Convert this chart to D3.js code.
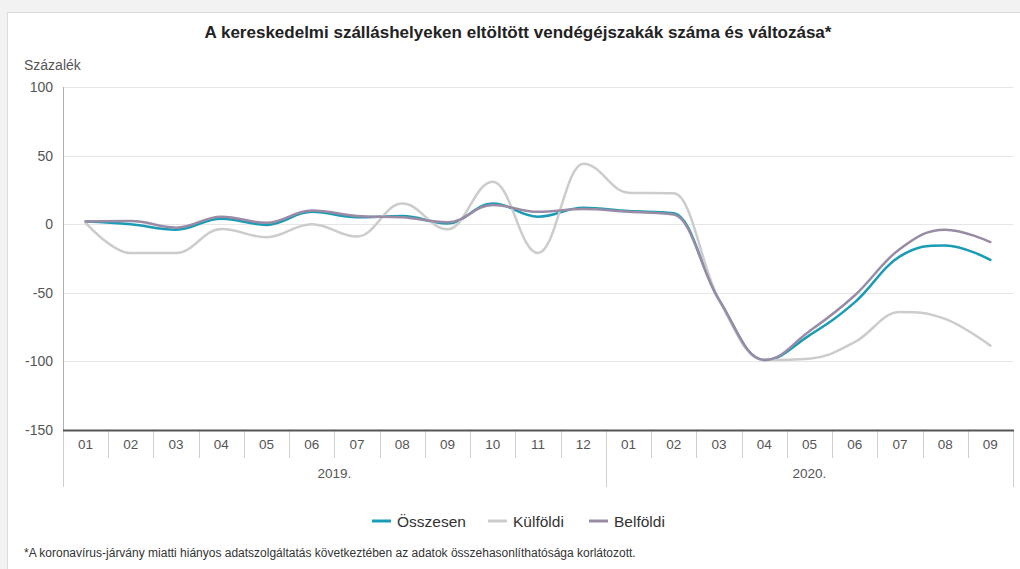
<!DOCTYPE html>
<html>
<head>
<meta charset="utf-8">
<script src="https://cdn.jsdelivr.net/npm/d3@7/dist/d3.min.js"></script>
<style>
  html, body { margin: 0; padding: 0; background: #f2f2f2; }
  svg { display: block; font-family: "Liberation Sans", Arial, sans-serif; }
</style>
</head>
<body>
<svg id="chart" width="1020" height="569"></svg>
<script>
// Month labels along the category axis, grouped by year
const months = ["01","02","03","04","05","06","07","08","09","10","11","12",
                "01","02","03","04","05","06","07","08","09"];
const yearLabels = ["2019.", "2020."];
const yearMonthCounts = [12, 9];

// Change compared with the same month of the previous year, %
const osszesen = [2, 0, -4, 4, -0.5, 9, 5, 6, 0.6, 15, 5.5, 12,
                  9.6, 8, -55, -99, -81, -57, -23.5, -15.5, -26];
const kulfoldi = [1, -21, -21, -3.5, -9.5, 0, -9, 15, -3.7, 31, -21, 44,
                  23, 22.5, -55, -99, -98, -86, -64, -69, -88.5];
const belfoldi = [2, 2.3, -2.5, 5.5, 1, 10, 6, 5, 1.4, 14, 9, 11,
                  9, 7, -55, -99, -78, -52, -18, -4, -13];

const yTicks = [100, 50, 0, -50, -100, -150];

const seriesNames = ["Összesen", "Külföldi", "Belföldi"];
const seriesColors = ["#1a9cb6", "#cccccc", "#9a8ba5"];
const seriesValues = [osszesen, kulfoldi, belfoldi];

const svg = d3.select("#chart");
const W = 1020, H = 569;
const plot = { left: 63, right: 1013, top: 87, bottom: 430 };

// White panel with a light frame
svg.append("rect").attr("x", 7.5).attr("y", 12.5).attr("width", W).attr("height", H)
  .attr("fill", "#fff").attr("stroke", "#dcdcdc");

// Title
svg.append("text").attr("x", 518).attr("y", 38).attr("text-anchor", "middle")
  .attr("font-size", 17).attr("font-weight", "bold").attr("fill", "#222")
  .text("A kereskedelmi szálláshelyeken eltöltött vendégéjszakák száma és változása*");

// Axis unit
svg.append("text").attr("x", 24).attr("y", 70).attr("font-size", 14).attr("fill", "#555")
  .text("Százalék");

const keys = months.map((m, i) => i);
const x = d3.scaleBand().domain(keys).range([plot.left, plot.right]);
const y = d3.scaleLinear().domain([-150, 100]).range([plot.bottom, plot.top]);

// Horizontal grid
svg.append("g").selectAll("line").data(yTicks.filter(t => t !== -150)).join("line")
  .attr("x1", plot.left).attr("x2", plot.right)
  .attr("y1", d => Math.round(y(d)) + 0.5).attr("y2", d => Math.round(y(d)) + 0.5)
  .attr("stroke", "#e6e6e6").attr("stroke-width", 1);

// Y axis labels (plain hyphen for negatives)
const yAxis = d3.axisLeft(y).tickValues(yTicks).tickSize(0).tickPadding(10).tickFormat(d => String(d));
const yg = svg.append("g").attr("transform", `translate(${plot.left},0)`).call(yAxis);
yg.select(".domain").remove();
yg.selectAll("text").attr("font-size", 14).attr("fill", "#555")
  .attr("font-family", "'Liberation Sans', Arial, sans-serif").attr("dy", "0.32em");

// Y axis line
svg.append("line").attr("x1", plot.left + 0.5).attr("x2", plot.left + 0.5)
  .attr("y1", plot.top).attr("y2", plot.bottom).attr("stroke", "#b0b0b0").attr("stroke-width", 1);

// Category separators: month boundaries and longer year boundaries
const bw = x.bandwidth();
const yearStarts = [0];
yearMonthCounts.forEach((c, i) => yearStarts.push(yearStarts[i] + c));
const boundaries = d3.range(months.length + 1);
svg.append("g").selectAll("line").data(boundaries).join("line")
  .attr("x1", i => Math.round(plot.left + i * bw) + 0.5)
  .attr("x2", i => Math.round(plot.left + i * bw) + 0.5)
  .attr("y1", plot.bottom)
  .attr("y2", i => yearStarts.includes(i) ? 487 : 458)
  .attr("stroke", "#cfcfcf").attr("stroke-width", 1);

// Bottom axis line
svg.append("line").attr("x1", plot.left).attr("x2", plot.right + 1)
  .attr("y1", plot.bottom + 0.5).attr("y2", plot.bottom + 0.5)
  .attr("stroke", "#555").attr("stroke-width", 2);

// Month labels
svg.append("g").selectAll("text").data(keys).join("text")
  .attr("x", i => x(i) + bw / 2).attr("y", 449).attr("text-anchor", "middle")
  .attr("font-size", 13.5).attr("fill", "#555").text(i => months[i]);

// Year labels
svg.append("g").selectAll("text").data(yearLabels).join("text")
  .attr("x", (d, i) => plot.left + (yearStarts[i] + yearMonthCounts[i] / 2) * bw)
  .attr("y", 478).attr("text-anchor", "middle")
  .attr("font-size", 13.5).attr("fill", "#555").text(d => d);

// Spline with flattened extremes (smoothing 1.5)
function splinePath(pts) {
  const n = pts.length;
  const lc = [], rc = [];
  const sm = 1.5, den = sm + 1;
  for (let i = 1; i < n - 1; i++) {
    const [px, py] = pts[i], [lx, ly] = pts[i - 1], [nx, ny] = pts[i + 1];
    let lX = (sm * px + lx) / den, lY = (sm * py + ly) / den;
    let rX = (sm * px + nx) / den, rY = (sm * py + ny) / den;
    let corr = 0;
    if (rX !== lX) corr = ((rY - lY) * (rX - px)) / (rX - lX) + py - rY;
    lY += corr; rY += corr;
    if (lY > ly && lY > py) { lY = Math.max(ly, py); rY = 2 * py - lY; }
    else if (lY < ly && lY < py) { lY = Math.min(ly, py); rY = 2 * py - lY; }
    if (rY > ny && rY > py) { rY = Math.max(ny, py); lY = 2 * py - rY; }
    else if (rY < ny && rY < py) { rY = Math.min(ny, py); lY = 2 * py - rY; }
    lc[i] = [lX, lY]; rc[i] = [rX, rY];
  }
  const p = d3.path();
  p.moveTo(pts[0][0], pts[0][1]);
  for (let i = 1; i < n; i++) {
    const c1 = rc[i - 1] || pts[i - 1];
    const c2 = lc[i] || pts[i];
    p.bezierCurveTo(c1[0], c1[1], c2[0], c2[1], pts[i][0], pts[i][1]);
  }
  return p.toString();
}

const lines = svg.append("g");
seriesValues.forEach((vals, s) => {
  const pts = vals.map((v, i) => [x(i) + bw / 2, y(v)]);
  lines.append("path").attr("d", splinePath(pts))
    .attr("fill", "none").attr("stroke", seriesColors[s])
    .attr("stroke-width", 2.5).attr("stroke-linejoin", "round").attr("stroke-linecap", "round");
});

// Legend
const legendX = [372, 488, 589];
const lg = svg.append("g");
seriesNames.forEach((name, s) => {
  lg.append("line").attr("x1", legendX[s]).attr("x2", legendX[s] + 19)
    .attr("y1", 521).attr("y2", 521).attr("stroke", seriesColors[s]).attr("stroke-width", 3);
  lg.append("text").attr("x", legendX[s] + 25).attr("y", 526.5)
    .attr("font-size", 15.5).attr("fill", "#333").text(name);
});

// Footnote
svg.append("text").attr("x", 24).attr("y", 557).attr("font-size", 12).attr("fill", "#333")
  .text("*A koronavírus-járvány miatti hiányos adatszolgáltatás következtében az adatok összehasonlíthatósága korlátozott.");
</script>
</body>
</html>
